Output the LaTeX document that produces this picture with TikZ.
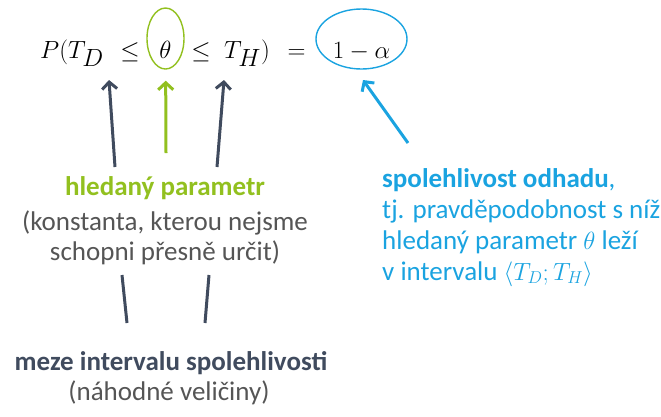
\documentclass[tikz,border=0pt]{standalone}
\usepackage{fontspec}
\setmainfont{Carlito}
\usetikzlibrary{arrows.meta,shapes.geometric}
\definecolor{lime}{HTML}{92C01F}
\definecolor{sky}{HTML}{1AA3E0}
\definecolor{slate}{HTML}{404B5E}
\definecolor{txtgray}{HTML}{555555}
\tikzset{
  eqpart/.style={inner sep=0pt, anchor=base, font=\fontsize{42}{48}\selectfont},
  ring/.style={ellipse, draw, line width=1.4pt, inner sep=0pt},
  lbl/.style={inner sep=0pt, align=center, font=\fontsize{27}{30}\selectfont},
  pointer/.style={line width=3pt, -{Straight Barb[length=7pt,width=15pt]}},
  stem/.style={line width=3pt, color=slate},
}
\begin{document}
\begin{tikzpicture}[x=1pt,y=-1pt]
\useasboundingbox (0,0) rectangle (661,416);
% the formula, set piece by piece so the parts can be pointed at
\node[eqpart] (pl) at (72,58) {$P(T_D$};
\node[eqpart] (le1) at (130,58) {$\le$};
\node[eqpart] (th) at (165.5,58) {$\theta$};
\node[eqpart] (le2) at (201,58) {$\le$};
\node[eqpart] (pr) at (247,58) {$T_H)$};
\node[eqpart] (eq) at (296.5,58) {$=$};
\node[eqpart] (rhs) at (361.5,58) {$1-\alpha$};
% highlighted parts
\node[ring, draw=lime, minimum width=37pt, minimum height=61pt] (thring) at (165.5,38.5) {};
\node[ring, draw=sky, minimum width=91pt, minimum height=60pt] (rhsring) at (361.5,39) {};
% labels (multi-line nodes sit on the baseline of their last line)
\node[lbl, anchor=base] (param) at (165,195) {\color{lime}\bfseries hledaný parametr};
\node[lbl, anchor=base, text=txtgray] (paramnote) at (165,260) {(konstanta, kterou nejsme\\schopni přesně určit)};
\node[lbl, anchor=base] (bounds) at (171,370) {\color{slate}\bfseries meze intervalu spolehlivosti};
\node[lbl, anchor=base, text=txtgray] (boundsnote) at (169,400) {(náhodné veličiny)};
\node[lbl, anchor=base west, align=left, text=sky, font=\fontsize{27}{30.7}\selectfont] (conf) at (382,280)
  {\textbf{spolehlivost odhadu},\\tj. pravděpodobnost s níž\\hledaný parametr $\theta$ leží\\v intervalu $\langle T_D; T_H\rangle$};
% arrow ends
\coordinate (ltail) at (115,167);
\coordinate (ltip) at (109,80);
\coordinate (rtail) at (217,167);
\coordinate (rtip) at (224,80);
\coordinate (gtail) at (166,153);
\coordinate (btail) at (408,143);
\coordinate (btip) at (363,80);
\coordinate (s1top) at (122,275);
\coordinate (s1bot) at (127,323);
\coordinate (s2top) at (209,275);
\coordinate (s2bot) at (205,323);
% connectors
\draw[pointer, slate] (ltail) -- (ltip);
\draw[pointer, slate] (rtail) -- (rtip);
\draw[pointer, lime, shorten >=11pt] (gtail) -- (thring);
\draw[pointer, sky] (btail) -- (btip);
\draw[stem] (s1top) -- (s1bot);
\draw[stem] (s2top) -- (s2bot);
\end{tikzpicture}
\end{document}
